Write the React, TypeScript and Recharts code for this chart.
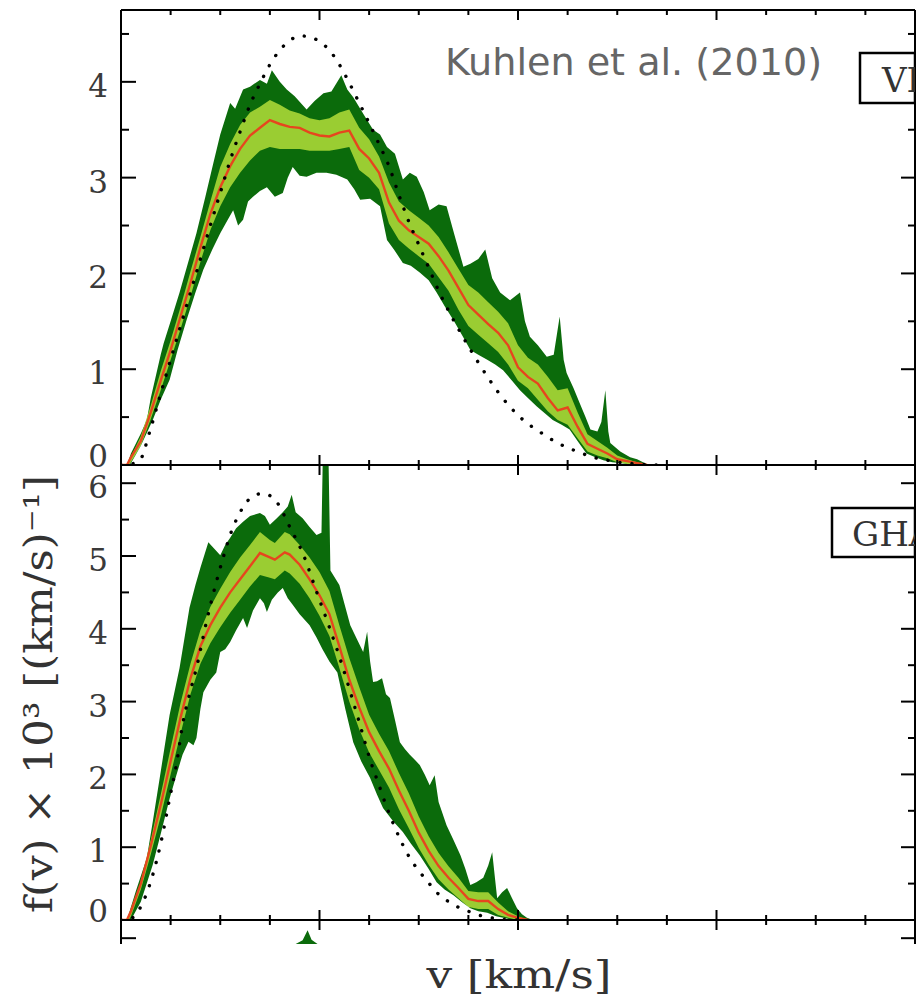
import { Area, ComposedChart, Line, XAxis, YAxis } from "recharts";

/* ────────── velocity distributions, VL2 (top) and GHALO (bottom) ────────── */

type Pt = [number, number]; // [v in km/s, f(v) x 10^3]

// VL2 panel
const vlDarkHi: Pt[] = [
  [0, 0], [6, 0], [10, 0.12], [20, 0.33], [26, 0.47], [30, 0.7], [40, 1.15], [43, 1.27], [50, 1.5], [59, 1.8],
  [70, 2.2], [76, 2.42], [85, 2.8], [93, 3.15], [100, 3.45], [110, 3.78], [115, 3.72], [123, 3.92], [130, 3.95], [140, 4.02],
  [147, 3.98], [152, 4.12], [160, 4.0], [167, 3.92], [175, 3.85], [187, 3.71], [195, 3.8], [204, 3.88], [212, 3.9], [222, 4.07],
  [228, 3.92], [234, 3.84], [245, 3.65], [254, 3.5], [261, 3.45], [268, 3.32], [276, 3.25], [284, 2.98], [291, 3.05], [298, 3.01],
  [305, 2.85], [311, 2.66], [320, 2.72], [328, 2.7], [336, 2.4], [345, 2.07], [352, 2.1], [360, 2.15], [367, 2.25], [374, 1.95],
  [382, 1.8], [392, 1.72], [402, 1.8], [407, 1.5], [412, 1.34], [420, 1.25], [429, 1.13], [436, 1.15], [442, 1.55], [446, 1.1],
  [449, 0.96], [456, 0.8], [462, 0.65], [468, 0.5], [473, 0.37], [480, 0.35], [484, 0.45], [488, 0.78], [491, 0.35], [493, 0.23],
  [503, 0.14], [513, 0.08], [520, 0.06], [526, 0.03], [532, 0],
];
const vlLightHi: Pt[] = [
  [0, 0], [6, 0], [20, 0.3], [30, 0.62], [40, 0.98], [50, 1.3], [60, 1.65], [70, 2.02], [80, 2.38], [90, 2.75],
  [100, 3.11], [110, 3.35], [120, 3.55], [130, 3.68], [140, 3.74], [150, 3.81], [160, 3.76], [170, 3.7], [180, 3.67], [190, 3.62],
  [200, 3.6], [210, 3.62], [220, 3.68], [230, 3.71], [240, 3.52], [250, 3.4], [260, 3.22], [270, 2.95], [280, 2.75], [290, 2.66],
  [300, 2.58], [310, 2.5], [320, 2.38], [330, 2.22], [340, 2.05], [350, 1.88], [360, 1.8], [370, 1.7], [380, 1.6], [390, 1.48],
  [400, 1.25], [410, 1.12], [420, 1.05], [430, 0.92], [440, 0.78], [450, 0.8], [460, 0.55], [470, 0.32], [480, 0.25], [490, 0.18],
  [500, 0.1], [510, 0.06], [520, 0.03], [530, 0],
];
const vlMedian: Pt[] = [
  [0, 0], [6, 0], [10, 0.08], [20, 0.25], [30, 0.55], [40, 0.88], [50, 1.2], [60, 1.55], [70, 1.9], [80, 2.27],
  [90, 2.62], [100, 2.9], [110, 3.12], [120, 3.3], [130, 3.44], [140, 3.52], [150, 3.6], [160, 3.56], [170, 3.53], [180, 3.52],
  [190, 3.47], [200, 3.44], [210, 3.43], [220, 3.47], [230, 3.49], [240, 3.3], [250, 3.2], [260, 3.05], [270, 2.74], [280, 2.55],
  [290, 2.45], [300, 2.38], [310, 2.31], [320, 2.18], [330, 2.03], [340, 1.85], [350, 1.67], [360, 1.57], [370, 1.47], [380, 1.38],
  [390, 1.25], [400, 1.02], [410, 0.92], [420, 0.85], [430, 0.7], [440, 0.57], [450, 0.6], [460, 0.4], [470, 0.22], [480, 0.17],
  [490, 0.12], [500, 0.06], [510, 0.04], [520, 0.02], [530, 0],
];
const vlLightLo: Pt[] = [
  [0, 0], [8, 0], [10, 0.03], [20, 0.2], [30, 0.48], [40, 0.78], [50, 1.1], [60, 1.42], [70, 1.76], [80, 2.12],
  [90, 2.45], [100, 2.7], [110, 2.9], [120, 3.05], [130, 3.18], [140, 3.28], [150, 3.32], [160, 3.3], [170, 3.3], [180, 3.3],
  [190, 3.28], [200, 3.28], [210, 3.28], [220, 3.3], [230, 3.32], [240, 3.08], [250, 3.0], [260, 2.88], [270, 2.52], [280, 2.35],
  [290, 2.26], [300, 2.18], [310, 2.1], [320, 1.96], [330, 1.82], [340, 1.62], [350, 1.45], [360, 1.36], [370, 1.27], [380, 1.18],
  [390, 1.05], [400, 0.88], [410, 0.8], [420, 0.68], [430, 0.56], [440, 0.47], [450, 0.42], [460, 0.28], [470, 0.14], [480, 0.1],
  [490, 0.07], [500, 0.03], [510, 0.01], [520, 0],
];
const vlDarkLo: Pt[] = [
  [0, 0], [9, 0], [20, 0.2], [32, 0.47], [40, 0.68], [49, 0.89], [57, 1.2], [66, 1.51], [75, 1.8], [83, 2.04],
  [92, 2.25], [100, 2.42], [107, 2.55], [113, 2.66], [118, 2.5], [123, 2.56], [128, 2.75], [133, 2.8], [140, 2.86], [147, 2.9],
  [155, 2.8], [163, 2.84], [168, 3.0], [173, 3.11], [180, 3.02], [187, 3.01], [197, 3.05], [207, 3.05], [217, 3.03], [228, 2.98],
  [235, 2.88], [241, 2.77], [251, 2.78], [261, 2.7], [268, 2.35], [275, 2.25], [284, 2.11], [292, 2.08], [301, 2.01], [310, 1.93],
  [318, 1.8], [326, 1.66], [335, 1.51], [344, 1.35], [352, 1.2], [360, 1.15], [369, 1.1], [377, 1.05], [385, 0.99], [394, 0.88],
  [402, 0.78], [410, 0.7], [419, 0.61], [427, 0.54], [435, 0.47], [444, 0.42], [452, 0.37], [460, 0.25], [469, 0.12], [478, 0.08],
  [486, 0.05], [495, 0.03], [503, 0.02], [515, 0],
];
const vlMaxwell: Pt[] = [
  [0, 0], [10, 0.01], [19, 0.05], [29, 0.35], [39, 0.71], [50, 1.1], [60, 1.45], [70, 1.8], [80, 2.15], [90, 2.5],
  [100, 2.84], [110, 3.18], [120, 3.48], [130, 3.76], [140, 3.98], [150, 4.18], [160, 4.33], [170, 4.43], [180, 4.48], [190, 4.47],
  [200, 4.42], [210, 4.33], [220, 4.18], [230, 3.99], [240, 3.78], [250, 3.57], [260, 3.35], [270, 3.12], [280, 2.82], [290, 2.54],
  [300, 2.3], [310, 2.06], [320, 1.82], [330, 1.61], [340, 1.42], [350, 1.24], [360, 1.07], [370, 0.91], [380, 0.76], [390, 0.63],
  [400, 0.52], [410, 0.43], [420, 0.36], [430, 0.29], [440, 0.23], [450, 0.18], [460, 0.14], [470, 0.1], [480, 0.07], [490, 0.05],
  [500, 0.03], [510, 0.02], [520, 0.01], [540, 0],
];

// GHALO panel
const ghDarkHi: Pt[] = [
  [0, 0], [6, 0], [15, 0.4], [26, 0.85], [32, 1.35], [39, 1.95], [49, 2.82], [59, 3.46], [69, 4.29], [75, 4.6],
  [80, 4.84], [88, 5.19], [94, 5.1], [100, 5.01], [105, 5.15], [110, 5.25], [116, 5.38], [123, 5.47], [130, 5.55], [140, 5.59],
  [145, 5.55], [150, 5.43], [157, 5.52], [163, 5.6], [168, 5.68], [172, 5.84], [176, 5.6], [183, 5.52], [190, 5.4], [197, 5.29],
  [202, 5.32], [204, 6.9], [208, 7.2], [211, 4.8], [220, 4.6], [226, 4.3], [231, 4.05], [238, 3.85], [244, 3.68], [248, 3.96],
  [251, 3.55], [254, 3.27], [258, 3.28], [263, 3.32], [267, 3.1], [271, 3.05], [276, 2.75], [281, 2.44], [286, 2.35], [291, 2.27],
  [296, 2.2], [301, 2.13], [306, 2.0], [311, 1.85], [316, 1.99], [320, 1.62], [328, 1.3], [335, 1.1], [342, 0.89], [347, 0.7],
  [352, 0.48], [358, 0.52], [365, 0.58], [370, 0.75], [374, 0.93], [377, 0.55], [379, 0.3], [384, 0.38], [389, 0.44], [394, 0.3],
  [399, 0.16], [404, 0.08], [409, 0.03], [415, 0],
];
const ghLightHi: Pt[] = [
  [0, 0], [6, 0], [20, 0.52], [30, 1.1], [40, 1.72], [50, 2.36], [60, 2.98], [70, 3.52], [80, 3.98], [90, 4.3],
  [100, 4.55], [110, 4.78], [120, 4.98], [130, 5.15], [140, 5.33], [150, 5.22], [155, 5.18], [165, 5.33], [170, 5.3], [180, 5.15],
  [190, 4.98], [200, 4.78], [210, 4.52], [220, 4.05], [230, 3.6], [240, 3.2], [250, 2.82], [260, 2.56], [270, 2.32], [280, 2.02],
  [290, 1.74], [300, 1.42], [310, 1.15], [320, 0.92], [330, 0.74], [340, 0.58], [350, 0.4], [360, 0.38], [370, 0.38], [380, 0.24],
  [390, 0.12], [400, 0.05], [410, 0],
];
const ghMedian: Pt[] = [
  [0, 0], [6, 0], [10, 0.12], [20, 0.5], [30, 1.02], [40, 1.58], [50, 2.18], [60, 2.78], [70, 3.32], [80, 3.76],
  [90, 4.05], [100, 4.29], [110, 4.5], [120, 4.68], [130, 4.86], [140, 5.04], [150, 4.98], [155, 4.95], [165, 5.05], [170, 5.02],
  [180, 4.88], [190, 4.68], [200, 4.46], [210, 4.2], [220, 3.76], [230, 3.3], [240, 2.92], [250, 2.58], [260, 2.32], [270, 2.08],
  [280, 1.78], [290, 1.5], [300, 1.2], [310, 0.95], [320, 0.74], [330, 0.58], [340, 0.44], [350, 0.29], [360, 0.26], [370, 0.26],
  [380, 0.15], [390, 0.07], [400, 0.03], [410, 0],
];
const ghLightLo: Pt[] = [
  [0, 0], [8, 0], [10, 0.05], [20, 0.42], [30, 0.9], [40, 1.42], [50, 2.0], [60, 2.56], [70, 3.1], [80, 3.52],
  [90, 3.8], [100, 4.02], [110, 4.22], [120, 4.4], [130, 4.58], [140, 4.74], [150, 4.7], [155, 4.68], [165, 4.8], [170, 4.76],
  [180, 4.62], [190, 4.42], [200, 4.18], [210, 3.9], [220, 3.46], [230, 3.0], [240, 2.62], [250, 2.3], [260, 2.06], [270, 1.82],
  [280, 1.52], [290, 1.26], [300, 0.99], [310, 0.76], [320, 0.56], [330, 0.42], [340, 0.3], [350, 0.18], [360, 0.15], [370, 0.15],
  [380, 0.07], [390, 0.03], [400, 0],
];
const ghDarkLo: Pt[] = [
  [0, 0], [10, 0], [20, 0.25], [32, 0.76], [40, 1.18], [49, 1.67], [56, 2.0], [62, 2.27], [68, 2.45], [73, 2.4],
  [76, 2.5], [80, 2.9], [83, 3.13], [90, 3.3], [96, 3.4], [100, 3.68], [105, 3.72], [110, 3.82], [116, 3.98], [123, 4.15],
  [127, 4.01], [133, 4.25], [140, 4.42], [144, 4.35], [147, 4.23], [152, 4.4], [158, 4.5], [163, 4.56], [168, 4.42], [173, 4.33],
  [180, 4.2], [190, 4.05], [197, 3.88], [203, 3.72], [210, 3.55], [218, 3.4], [226, 2.9], [234, 2.44], [242, 2.18], [251, 1.95],
  [258, 1.72], [264, 1.54], [274, 1.36], [284, 1.21], [292, 1.05], [301, 0.89], [310, 0.7], [318, 0.52], [326, 0.42], [335, 0.34],
  [344, 0.24], [352, 0.16], [360, 0.12], [369, 0.1], [378, 0.05], [385, 0.03], [395, 0],
];
const ghMaxwell: Pt[] = [
  [0, 0], [10, 0.02], [19, 0.16], [32, 0.62], [40, 1.05], [49, 1.67], [56, 2.15], [62, 2.68], [70, 3.15], [76, 3.46],
  [86, 4.09], [96, 4.64], [103, 4.98], [110, 5.29], [120, 5.6], [130, 5.79], [143, 5.86], [157, 5.74], [170, 5.4], [184, 5.01],
  [197, 4.51], [210, 4.02], [220, 3.62], [230, 3.18], [240, 2.72], [251, 2.2], [260, 1.85], [268, 1.54], [276, 1.27], [284, 1.03],
  [292, 0.83], [301, 0.66], [310, 0.51], [318, 0.38], [326, 0.29], [335, 0.21], [344, 0.15], [352, 0.11], [360, 0.07], [369, 0.04],
  [385, 0.01], [400, 0],
];

// sliver of the next panel peeking out under the bottom axis
const nextPanelSpike: Pt[] = [[176, 5.92], [183, 5.97], [188, 6.11], [192, 5.98], [198, 5.92]];

const xTicks = [0, 50, 100, 150, 200, 250, 300, 350, 400, 450, 500, 550, 600, 650, 700, 750, 800];
const vlTicks = [0, 0.5, 1, 1.5, 2, 2.5, 3, 3.5, 4, 4.5];
const ghTicks = [0, 0.5, 1, 1.5, 2, 2.5, 3, 3.5, 4, 4.5, 5, 5.5, 6];
const nextTicks = [6];

const DARK = "#0b6b0b";
const LIGHT = "#9acd32";
const RED = "#e6461e";
const serif = "'DejaVu Serif', serif";

const rows = (pts: Pt[]) => pts.map(([v, f]) => ({ v, f }));

function yTick(side: "l" | "r", labels: boolean) {
  return (p: any) => {
    const val = p.payload.value as number;
    const major = Number.isInteger(val);
    const len = side === "l" ? (major ? 15 : 8) : major ? 14 : 7;
    const x2 = side === "l" ? p.x + len : p.x - len;
    return (
      <g>
        <line x1={p.x} y1={p.y} x2={x2} y2={p.y} stroke="#000" strokeWidth={2} />
        {labels && major && (
          <text
            x={p.x - 13}
            y={p.y + (val === 0 ? -9 : 4)}
            textAnchor="end"
            dominantBaseline="central"
            fontFamily={serif}
            fontSize={31}
            fill="#3a3a3a"
          >
            {val}
          </text>
        )}
      </g>
    );
  };
}

function xTick(dir: 1 | -1) {
  return (p: any) => {
    const len = p.payload.value % 200 === 0 ? 10 : 5;
    return <line x1={p.x} y1={p.y} x2={p.x} y2={p.y + dir * len} stroke="#000" strokeWidth={2} />;
  };
}

const axisLine = { stroke: "#000", strokeWidth: 2 };

function Band({ darkHi, lightHi, lightLo, darkLo, median, maxwell, xId }: any) {
  // layered fills: dark up to outer top, light up to inner top, dark up to inner bottom, white up to outer bottom
  const common = { xAxisId: xId, yAxisId: "l", dataKey: "f", type: "linear" as const, stroke: "none", fillOpacity: 1, isAnimationActive: false, activeDot: false, dot: false };
  return [
    <Area key="a1" {...common} data={rows(darkHi)} fill={DARK} />,
    <Area key="a2" {...common} data={rows(lightHi)} fill={LIGHT} />,
    <Area key="a3" {...common} data={rows(lightLo)} fill={DARK} />,
    <Area key="a4" {...common} data={rows(darkLo)} fill="#fff" />,
    <Line key="l1" xAxisId={xId} yAxisId="l" data={rows(median)} dataKey="f" type="linear" stroke={RED} strokeWidth={2.4} dot={false} activeDot={false} isAnimationActive={false} />,
    <Line key="l2" xAxisId={xId} yAxisId="l" data={rows(maxwell)} dataKey="f" type="monotone" stroke="#000" strokeWidth={3.4} strokeDasharray="0.1 12" strokeLinecap="round" dot={false} activeDot={false} isAnimationActive={false} />,
  ];
}

function Axes({ yMax, ticks, labels, bottom = true }: { yMax: number[]; ticks: number[]; labels: boolean; bottom?: boolean }) {
  return [
    bottom ? (
      <XAxis key="xb" xAxisId="b" dataKey="v" type="number" domain={[0, 800]} ticks={xTicks} interval={0} allowDataOverflow orientation="bottom" height={1} tickSize={0} tickMargin={0} tickLine={false} axisLine={axisLine} tick={xTick(-1)} />
    ) : null,
    <XAxis key="xt" xAxisId="t" dataKey="v" type="number" domain={[0, 800]} ticks={xTicks} interval={0} allowDataOverflow orientation="top" height={1} tickSize={0} tickMargin={0} tickLine={false} axisLine={axisLine} tick={xTick(1)} />,
    <YAxis key="yl" yAxisId="l" type="number" domain={[yMax[0], yMax[1]]} ticks={ticks} interval={0} allowDataOverflow width={121} tickSize={0} tickMargin={0} tickLine={false} axisLine={axisLine} tick={yTick("l", labels)} />,
    <YAxis key="yr" yAxisId="r" orientation="right" type="number" domain={[yMax[0], yMax[1]]} ticks={ticks} interval={0} allowDataOverflow width={1} tickSize={0} tickMargin={0} tickLine={false} axisLine={axisLine} tick={yTick("r", false)} />,
  ];
}

export default function App() {
  return (
    <div style={{ position: "absolute", left: 0, top: 0, width: 916, height: 1000, overflow: "hidden", background: "#fff" }}>
      <div style={{ position: "absolute", left: 0, top: 0 }}>
        <ComposedChart width={916} height={470} margin={{ top: 9, right: 0, bottom: 4, left: 0 }}>
          {Axes({ yMax: [0, 4.75], ticks: vlTicks, labels: true })}
          {Band({ darkHi: vlDarkHi, lightHi: vlLightHi, lightLo: vlLightLo, darkLo: vlDarkLo, median: vlMedian, maxwell: vlMaxwell, xId: "b" })}
        </ComposedChart>
      </div>
      <div style={{ position: "absolute", left: 0, top: 460 }}>
        <ComposedChart width={916} height={470} margin={{ top: 4, right: 0, bottom: 9, left: 0 }}>
          {Axes({ yMax: [0, 6.25], ticks: ghTicks, labels: true })}
          {Band({ darkHi: ghDarkHi, lightHi: ghLightHi, lightLo: ghLightLo, darkLo: ghDarkLo, median: ghMedian, maxwell: ghMaxwell, xId: "b" })}
        </ComposedChart>
      </div>
      <div style={{ position: "absolute", left: 0, top: 915 }}>
        <ComposedChart width={916} height={40} margin={{ top: 4, right: 0, bottom: 11, left: 0 }}>
          {Axes({ yMax: [5.92, 6.25], ticks: nextTicks, labels: false, bottom: false })}
          <Area xAxisId="t" yAxisId="l" data={rows(nextPanelSpike)} dataKey="f" type="linear" stroke="none" fill={DARK} fillOpacity={1} dot={false} activeDot={false} isAnimationActive={false} />
        </ComposedChart>
      </div>
      <svg width={916} height={1000} style={{ position: "absolute", left: 0, top: 0, pointerEvents: "none" }}>
        <defs>
          <clipPath id="vlBox">
            <rect x={860} y={53} width={55} height={50} />
          </clipPath>
          <clipPath id="ghBox">
            <rect x={832} y={508} width={83} height={49} />
          </clipPath>
        </defs>
        <text x={445} y={75} fontFamily="'DejaVu Sans', sans-serif" fontSize={38} fill="#666" textLength={377} lengthAdjust="spacingAndGlyphs">
          Kuhlen et al. (2010)
        </text>
        <rect x={860} y={53} width={55} height={50} fill="#fff" stroke="#000" strokeWidth={2.5} />
        <text x={882} y={92} fontFamily={serif} fontSize={34} fill="#333" clipPath="url(#vlBox)">VL2</text>
        <rect x={832} y={508} width={83} height={49} fill="#fff" stroke="#000" strokeWidth={2.5} />
        <text x={852} y={546} fontFamily={serif} fontSize={34} fill="#333" clipPath="url(#ghBox)">GHALO</text>
        <text x={519} y={988} textAnchor="middle" fontFamily={serif} fontSize={40} fill="#333" textLength={185} lengthAdjust="spacingAndGlyphs">
          v [km/s]
        </text>
        <text transform="rotate(-90)" x={-694} y={52} textAnchor="middle" fontFamily={serif} fontSize={40} fill="#333" textLength={438} lengthAdjust="spacingAndGlyphs">
          f(v) × 10³ [(km/s)⁻¹]
        </text>
      </svg>
    </div>
  );
}
